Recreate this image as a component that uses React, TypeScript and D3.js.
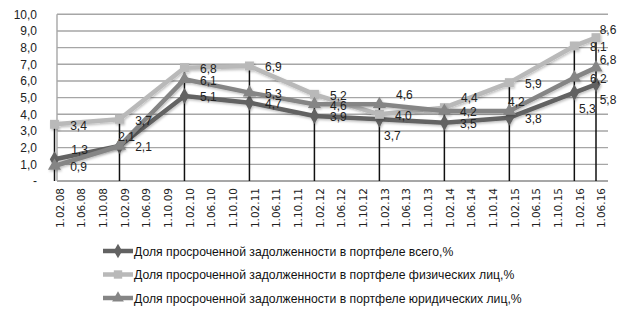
import React from "react";
import * as d3 from "d3";

const categories = [
  "1.02.08", "1.06.08", "1.10.08", "1.02.09", "1.06.09", "1.10.09",
  "1.02.10", "1.06.10", "1.10.10", "1.02.11", "1.06.11", "1.10.11",
  "1.02.12", "1.06.12", "1.10.12", "1.02.13", "1.06.13", "1.10.13",
  "1.02.14", "1.06.14", "1.10.14", "1.02.15", "1.06.15", "1.10.15",
  "1.02.16", "1.06.16",
];

const pointDates = [
  "1.02.08", "1.02.09", "1.02.10", "1.02.11", "1.02.12",
  "1.02.13", "1.02.14", "1.02.15", "1.02.16", "1.06.16",
];

const totalValues = [1.3, 2.1, 5.1, 4.7, 3.9, 3.7, 3.5, 3.8, 5.3, 5.8];
const physicalValues = [3.4, 3.7, 6.8, 6.9, 5.2, 4.0, 4.4, 5.9, 8.1, 8.6];
const legalValues = [0.9, 2.1, 6.1, 5.3, 4.6, 4.6, 4.2, 4.2, 6.2, 6.8];

const seriesNames = [
  "Доля просроченной задолженности в портфеле всего,%",
  "Доля просроченной задолженности в портфеле физических лиц,%",
  "Доля просроченной задолженности в портфеле юридических лиц,%",
];

// label placement codes per point
const totalPlacement = ["ar", "r", "r", "r", "r", "b", "r", "r", "b", "bb"];
const physicalPlacement = ["r", "r", "r", "r", "r", "r", "ar", "r", "r", "aa"];
const legalPlacement = ["r", "a", "r", "r", "r", "ar", "r", "a", "r", "aa"];

const yTicks = [0, 1, 2, 3, 4, 5, 6, 7, 8, 9, 10];

const placementOffsets: Record<string, [number, number]> = {
  r: [24, 1],
  ar: [25, -10],
  a: [7, -9],
  aa: [12, -8],
  b: [13, 16],
  bb: [12, 15],
};

const W = 625;
const H = 318;
const plotLeft = 57;
const plotRight = 608;
const plotTop = 14.3;
const plotBottom = 181;

const fmt = (v: number) => (v === 0 ? "-" : d3.format(".1f")(v).replace(".", ","));

type Series = {
  name: string;
  values: number[];
  placement: string[];
  color: string;
  marker: "diamond" | "square" | "triangle";
};

const series: Series[] = [
  { name: seriesNames[0], values: totalValues, placement: totalPlacement, color: "#626262", marker: "diamond" },
  { name: seriesNames[1], values: physicalValues, placement: physicalPlacement, color: "#b9b9b9", marker: "square" },
  { name: seriesNames[2], values: legalValues, placement: legalPlacement, color: "#858585", marker: "triangle" },
];

const symbolType = {
  diamond: d3.symbolDiamond,
  square: d3.symbolSquare,
  triangle: d3.symbolTriangle,
};

export default function App() {
  const x = d3.scalePoint<string>().domain(categories).range([54.5, 596]);
  const y = d3.scaleLinear().domain([0, 10]).range([plotBottom, plotTop]);

  const line = d3
    .line<number>()
    .x((_, i) => x(pointDates[i]) as number)
    .y((d) => y(d));

  const maxVals = pointDates.map((_, i) => d3.max(series, (s) => s.values[i]) as number);

  const legendRows = [251, 274.5, 298];

  return (
    <svg
      width={W}
      height={H}
      style={{ position: "absolute", left: 0, top: 0, background: "#fff" }}
    >
      <defs>
        <filter id="sh" x="-10%" y="-10%" width="130%" height="140%">
          <feDropShadow dx="1" dy="1.5" stdDeviation="1" floodColor="#000" floodOpacity="0.25" />
        </filter>
      </defs>
      {/* gridlines */}
      {yTicks.map((t) => (
        <line
          key={t}
          x1={plotLeft}
          x2={plotRight}
          y1={y(t)}
          y2={y(t)}
          stroke={t === 0 ? "#8a8a8a" : "#a6a6a6"}
          strokeWidth={1.4}
        />
      ))}
      <line x1={plotLeft} x2={plotLeft} y1={plotTop} y2={plotBottom} stroke="#a6a6a6" strokeWidth={1.4} />
      {/* y labels */}
      {yTicks.map((t) => (
        <text
          key={t}
          x={37}
          y={y(t)}
          dy="0.35em"
          textAnchor="end"
          fontFamily="Liberation Sans, Arial, sans-serif"
          fontSize={12}
          fill="#222"
        >
          {fmt(t)}
        </text>
      ))}
      {/* x labels */}
      {categories.map((c) => (
        <text
          key={c}
          transform={`translate(${(x(c) as number) + 5.5},${plotBottom + 7}) rotate(-90)`}
          dy="0.35em"
          textAnchor="end"
          fontFamily="DejaVu Sans, Verdana, sans-serif"
          fontSize={10.5}
          fill="#222"
        >
          {c}
        </text>
      ))}
      {/* drop lines */}
      {pointDates.map((d, i) => (
        <line
          key={d}
          x1={x(d) as number}
          x2={x(d) as number}
          y1={y(maxVals[i])}
          y2={plotBottom}
          stroke="#111"
          strokeWidth={1.5}
        />
      ))}
      {/* series lines */}
      {series.map((s) => (
        <g key={s.name} filter="url(#sh)">
          <path d={line(s.values) as string} fill="none" stroke={s.color} strokeWidth={4.5} strokeLinejoin="round" />
          {s.values.map((v, i) => (
            <path
              key={i}
              transform={`translate(${x(pointDates[i])},${y(v)})`}
              d={d3.symbol(symbolType[s.marker], s.marker === "square" ? 80 : 75)() as string}
              fill={s.color}
            />
          ))}
        </g>
      ))}
      {/* data labels */}
      {series.map((s) =>
        s.values.map((v, i) => {
          const [dx, dy] = placementOffsets[s.placement[i]];
          return (
            <text
              key={s.name + i}
              x={(x(pointDates[i]) as number) + dx}
              y={y(v) + dy}
              dy="0.35em"
              textAnchor="middle"
              fontFamily="Liberation Sans, Arial, sans-serif"
              fontSize={12}
              fill="#222"
            >
              {fmt(v)}
            </text>
          );
        })
      )}
      {/* legend */}
      {series.map((s, i) => (
        <g key={s.name} transform={`translate(0,${legendRows[i]})`}>
          <line x1={103} x2={133} y1={0} y2={0} stroke={s.color} strokeWidth={4.5} />
          <path
            transform="translate(118,0)"
            d={d3.symbol(symbolType[s.marker], s.marker === "square" ? 70 : 60)() as string}
            fill={s.color}
          />
          <g transform="translate(134,0) scale(0.94,1)">
            <text
              x={0}
              y={0}
              dy="0.35em"
              fontFamily="Liberation Sans, Arial, sans-serif"
              fontSize={13}
              fill="#111"
            >
              {s.name}
            </text>
          </g>
        </g>
      ))}
    </svg>
  );
}
